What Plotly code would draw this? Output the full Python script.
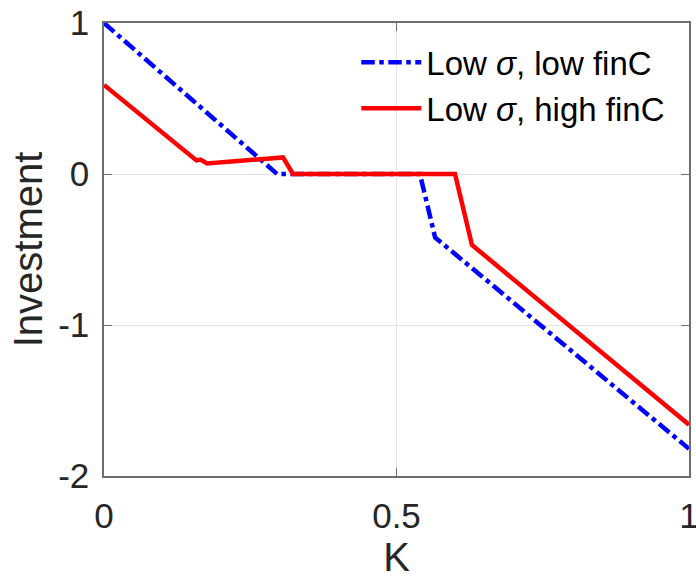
import plotly.graph_objects as go

# Data
k_low = [0.0, 0.296, 0.54, 0.566, 1.0]
inv_low = [1.0, 0.0, 0.0, -0.42, -1.82]

k_high = [0.0, 0.158, 0.165, 0.176, 0.306, 0.323, 0.60, 0.629, 1.0]
inv_high = [0.59, 0.09, 0.095, 0.07, 0.11, 0.0, 0.0, -0.47, -1.66]

x_ticks = [0, 0.5, 1]
x_tick_labels = ["0", "0.5", "1"]
y_ticks = [-2, -1, 0, 1]
y_tick_labels = ["-2", "-1", "0", "1"]

FONT = "Liberation Sans, Arial, sans-serif"

fig = go.Figure()
fig.add_trace(go.Scatter(
    x=k_low, y=inv_low, mode="lines",
    name="Low <i>σ</i>, low finC",
    line=dict(color="#0000ff", width=4.5, dash="dashdot"),
))
fig.add_trace(go.Scatter(
    x=k_high, y=inv_high, mode="lines",
    name="Low <i>σ</i>, high finC",
    line=dict(color="#ff0000", width=4.5),
))

axis_common = dict(
    showline=True, mirror="ticks", linecolor="#6e6e6e", linewidth=1.5,
    ticks="inside", ticklen=8, tickcolor="#6e6e6e",
    showgrid=True, gridcolor="#e3e3e3", gridwidth=1,
    zeroline=False, automargin=False, ticklabeloverflow="allow",
    tickfont=dict(family=FONT, size=35, color="#262626"),
)

fig.update_layout(
    width=696, height=579,
    margin=dict(l=104, r=7, t=23, b=103),
    paper_bgcolor="white", plot_bgcolor="white",
    font=dict(family=FONT, color="#262626"),
    xaxis=dict(
        range=[0, 1], tickvals=x_ticks, ticktext=x_tick_labels,
        ticklabelstandoff=8,
        title=dict(text="K", font=dict(family=FONT, size=40, color="#262626"), standoff=14),
        **axis_common,
    ),
    yaxis=dict(
        range=[-2, 1], tickvals=y_ticks, ticktext=y_tick_labels,
        ticklabelstandoff=6,
        title=dict(text="Investment", font=dict(family=FONT, size=40, color="#262626"), standoff=3),
        **axis_common,
    ),
    legend=dict(
        x=0.968, y=0.975, xanchor="right", yanchor="top",
        bgcolor="rgba(255,255,255,0)", borderwidth=0,
        font=dict(family=FONT, size=33, color="#000000"),
        itemwidth=60, tracegroupgap=0,
    ),
    showlegend=True,
)

fig.write_html(
    "out.html",
    config={"displayModeBar": False},
    post_script="document.body.style.margin='0';document.body.style.padding='0';document.body.style.overflow='hidden';",
)
